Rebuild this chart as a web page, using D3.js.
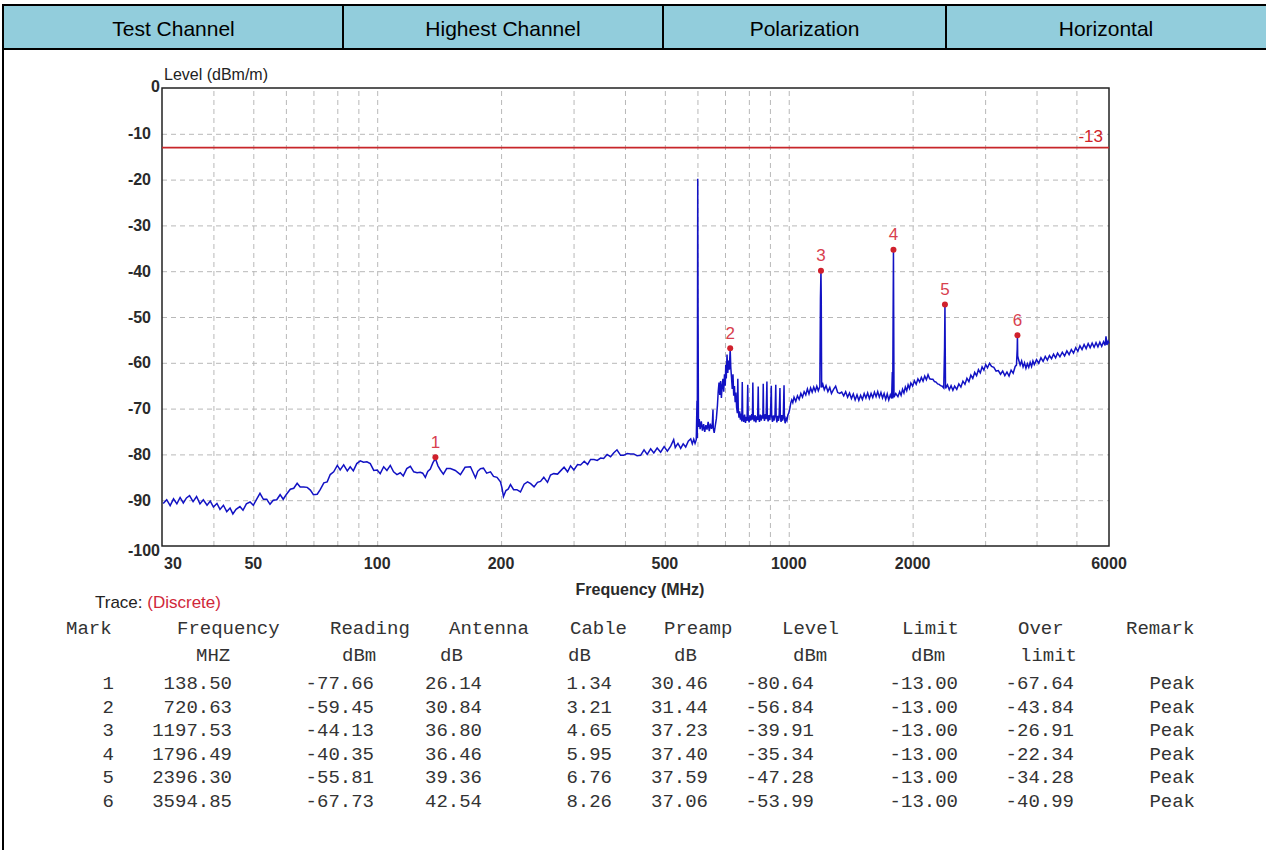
<!DOCTYPE html>
<html>
<head>
<meta charset="utf-8">
<script src="https://cdn.jsdelivr.net/npm/d3@7/dist/d3.min.js"></script>
<style>
	html, body { margin: 0; padding: 0; background: #fff; }
	svg { display: block; }
</style>
</head>
<body>
<svg id="chart"></svg>
<script>
const WIDTH = 1266;
const HEIGHT = 850;

// header row of the report table
const headerCells = ['Test Channel', 'Highest Channel', 'Polarization', 'Horizontal'];

// axis ticks
const yTicks = [0, -10, -20, -30, -40, -50, -60, -70, -80, -90, -100];
const xTickLabels = [30, 50, 100, 200, 500, 1000, 2000, 6000];
const xGridLines = [40, 50, 60, 70, 80, 90, 100, 200, 300, 400, 500, 600, 700, 800, 900, 1000, 2000, 3000, 4000, 5000];
const limitLevel = -13;

// measured trace: [frequency MHz, level dBm/m]
const trace = [
	[30.2, -90.7], [30.8, -89.9], [31.4, -91.2], [32.0, -89.7], [32.6, -90.8], [33.2, -89.4], [33.8, -90.6],
	[34.4, -89.5], [35.0, -89.0], [35.7, -90.3], [36.4, -89.2], [37.1, -90.8], [37.8, -89.9], [38.6, -91.1],
	[39.3, -90.2], [40.0, -91.5], [40.8, -90.7], [41.5, -92.0], [42.3, -91.1], [43.1, -92.5], [43.9, -91.7],
	[44.6, -93.0], [45.4, -92.0], [46.4, -91.4], [47.2, -92.2], [48.1, -90.8], [49.1, -90.4], [50.0, -91.1],
	[51.0, -89.7], [51.9, -88.5], [52.9, -89.8], [53.9, -89.8], [54.9, -90.9], [55.9, -90.0], [57.0, -89.9],
	[58.1, -88.8], [59.1, -89.8], [60.2, -88.7], [61.5, -87.6], [62.7, -87.4], [63.9, -86.3], [65.0, -87.1],
	[66.3, -87.1], [67.6, -87.2], [68.8, -87.8], [70.0, -88.8], [71.5, -88.7], [72.7, -87.7], [74.2, -86.2],
	[75.6, -86.0], [76.9, -84.4], [78.4, -83.8], [80.0, -82.4], [81.3, -83.4], [82.9, -82.3], [84.6, -83.6],
	[86.0, -82.7], [87.5, -83.6], [89.2, -82.0], [91.0, -81.4], [92.6, -81.7], [94.4, -81.6], [96.2, -82.0],
	[98.1, -83.5], [100.0, -83.4], [101.7, -84.2], [103.7, -82.7], [105.6, -83.5], [107.6, -82.4], [109.6, -83.8],
	[111.7, -84.4], [113.8, -84.0], [115.7, -84.7], [118.0, -83.1], [120.4, -82.6], [122.7, -83.8], [125.0, -84.0],
	[127.3, -83.9], [129.0, -84.1], [130.9, -85.0], [132.7, -83.7], [134.6, -83.2], [136.6, -81.8], [138.5, -80.9],
	[140.5, -82.5], [142.4, -83.4], [144.8, -84.3], [147.5, -83.1], [150.6, -83.1], [154.8, -83.5], [159.3, -84.4],
	[163.5, -82.8], [168.5, -82.7], [173.3, -85.1], [175.5, -83.7], [178.2, -83.1], [181.2, -83.0], [184.5, -84.1],
	[188.5, -83.8], [191.7, -84.8], [195.5, -85.0], [199.3, -86.0], [201.0, -87.3], [202.7, -89.2], [205.5, -87.9],
	[208.0, -87.6], [210.8, -86.6], [214.5, -87.7], [218.5, -87.7], [222.9, -88.2], [227.5, -86.5], [231.9, -86.0],
	[236.0, -86.4], [240.5, -87.1], [245.2, -86.1], [249.4, -85.9], [254.0, -85.0], [259.3, -86.1], [263.7, -84.5],
	[268.5, -84.2], [274.3, -84.3], [279.0, -83.6], [284.5, -82.8], [290.1, -83.8], [295.0, -82.5], [300.5, -83.4],
	[306.8, -82.2], [312.0, -82.3], [318.5, -81.5], [324.5, -82.2], [330.0, -81.1], [336.5, -81.1], [342.5, -81.3],
	[349.0, -80.8], [355.0, -80.9], [362.0, -80.0], [369.0, -80.5], [375.4, -79.7], [382.5, -79.0], [390.3, -80.2],
	[397.0, -80.2], [405.0, -79.8], [412.8, -79.9], [420.0, -79.9], [428.0, -80.3], [436.6, -80.2], [445.0, -79.0],
	[453.0, -80.0], [461.8, -78.8], [470.0, -79.7], [479.0, -78.6], [488.3, -79.5], [498.0, -78.3], [507.0, -79.3],
	[516.6, -78.2], [525.3, -76.8], [530.0, -78.5], [538.0, -77.6], [546.3, -78.7], [554.0, -77.7], [561.8, -78.4],
	[570.0, -77.1], [577.8, -76.6], [583.0, -77.7], [587.7, -76.7], [592.0, -77.6], [596.0, -76.8], [598.5, -68.3],
	[599.5, -76.5], [601.0, -19.8], [602.0, -48.0], [603.5, -74.0], [606.0, -72.3], [609.0, -74.5], [613.0, -72.8],
	[617.0, -74.8], [621.0, -73.4], [625.0, -75.1], [629.0, -73.6], [633.0, -74.6], [637.0, -72.9], [641.0, -74.9],
	[645.0, -73.3], [649.0, -74.4], [652.0, -73.5], [654.5, -70.2], [655.5, -74.2], [659.0, -75.3], [663.0, -73.7],
	[667.0, -72.2], [671.0, -69.3], [674.0, -66.2], [677.0, -64.3], [680.0, -67.0], [683.0, -64.0], [686.0, -67.7],
	[689.0, -65.0], [692.0, -63.5], [695.0, -66.3], [698.0, -62.5], [701.0, -65.0], [703.0, -60.5], [705.0, -63.4],
	[708.0, -58.2], [711.0, -62.2], [714.0, -59.5], [717.0, -61.5], [720.6, -57.0], [723.0, -61.0], [726.0, -63.2],
	[729.0, -65.7], [732.0, -62.5], [735.0, -67.2], [738.0, -65.1], [741.0, -68.6], [744.0, -66.5], [747.0, -69.8],
	[750.0, -71.0], [752.0, -63.5], [754.0, -70.2], [757.0, -72.0], [760.0, -70.6], [763.0, -72.4], [766.0, -71.1],
	[769.0, -72.8], [771.0, -64.2], [773.0, -71.5], [777.0, -72.9], [781.0, -71.3], [785.0, -73.1], [789.0, -71.8],
	[792.0, -72.7], [795.0, -64.8], [797.0, -71.9], [801.0, -73.0], [805.0, -71.5], [809.0, -72.6], [813.0, -71.2],
	[816.0, -72.4], [818.0, -64.3], [820.0, -71.6], [824.0, -72.8], [828.0, -71.4], [832.0, -73.0], [836.0, -71.7],
	[840.0, -72.5], [843.0, -65.2], [845.0, -71.8], [849.0, -72.9], [853.0, -71.3], [857.0, -72.6], [861.0, -71.5],
	[865.0, -72.2], [867.0, -64.6], [869.0, -71.4], [873.0, -72.7], [877.0, -71.2], [881.0, -72.3], [885.0, -64.1],
	[887.0, -71.6], [891.0, -72.8], [895.0, -71.4], [899.0, -72.5], [903.0, -71.0], [907.0, -65.0], [909.0, -71.7],
	[913.0, -72.9], [917.0, -71.5], [921.0, -72.6], [926.0, -71.3], [930.0, -64.8], [932.0, -71.9], [936.0, -73.0],
	[940.0, -71.6], [944.0, -72.7], [948.0, -71.2], [952.0, -65.5], [954.0, -71.8], [958.0, -72.9], [962.0, -71.4],
	[966.0, -72.6], [970.0, -71.7], [974.0, -64.9], [976.0, -72.0], [980.0, -73.2], [985.0, -72.1], [990.0, -72.6],
	[995.0, -71.4], [1000.0, -71.0], [1006.0, -70.0], [1011.0, -68.8], [1017.0, -68.1], [1023.0, -68.7], [1030.0, -67.5],
	[1040.0, -68.4], [1050.0, -67.2], [1060.0, -68.0], [1070.0, -66.7], [1080.0, -67.5], [1090.0, -66.3], [1100.0, -67.0],
	[1110.0, -65.7], [1120.0, -66.8], [1130.0, -65.5], [1140.0, -66.4], [1150.0, -65.3], [1160.0, -66.2], [1170.0, -65.1],
	[1180.0, -66.1], [1190.0, -65.2], [1194.0, -46.0], [1197.5, -39.9], [1199.5, -46.0], [1202.0, -65.4], [1210.0, -64.7],
	[1220.0, -65.9], [1232.0, -65.0], [1245.0, -66.3], [1258.0, -65.4], [1270.0, -66.7], [1285.0, -65.8], [1300.0, -65.1],
	[1315.0, -66.5], [1330.0, -66.7], [1345.0, -66.4], [1360.0, -67.2], [1375.0, -66.3], [1390.0, -67.5], [1405.0, -66.6],
	[1420.0, -67.8], [1435.0, -66.8], [1450.0, -68.1], [1465.0, -67.0], [1480.0, -68.2], [1495.0, -67.1], [1510.0, -68.0],
	[1525.0, -66.7], [1540.0, -67.7], [1555.0, -66.6], [1570.0, -67.8], [1585.0, -66.7], [1600.0, -67.6], [1615.0, -66.4],
	[1630.0, -67.4], [1645.0, -66.3], [1660.0, -67.5], [1675.0, -66.5], [1690.0, -67.7], [1705.0, -66.7], [1720.0, -68.0],
	[1735.0, -66.8], [1750.0, -68.1], [1765.0, -67.0], [1778.0, -67.8], [1785.0, -62.0], [1789.0, -67.8], [1793.0, -49.5],
	[1796.5, -35.3], [1799.0, -49.5], [1802.0, -67.5], [1820.0, -66.7], [1842.0, -67.4], [1860.0, -66.3], [1875.0, -67.1],
	[1890.0, -65.8], [1905.0, -66.6], [1920.0, -65.3], [1935.0, -66.1], [1950.0, -64.8], [1965.0, -65.6], [1980.0, -64.4],
	[2000.0, -65.1], [2020.0, -63.9], [2040.0, -64.7], [2060.0, -63.5], [2080.0, -64.2], [2100.0, -63.2], [2120.0, -64.0],
	[2140.0, -62.9], [2160.0, -63.7], [2180.0, -62.6], [2200.0, -63.5], [2220.0, -63.6], [2240.0, -63.6], [2260.0, -64.1],
	[2280.0, -64.2], [2300.0, -64.6], [2320.0, -64.7], [2340.0, -65.0], [2360.0, -65.1], [2380.0, -65.5], [2391.0, -56.7],
	[2396.3, -47.3], [2400.0, -56.7], [2404.0, -65.6], [2430.0, -64.8], [2455.0, -65.9], [2480.0, -65.0], [2505.0, -66.0],
	[2530.0, -65.1], [2560.0, -65.8], [2590.0, -64.6], [2620.0, -65.3], [2650.0, -64.0], [2680.0, -64.7], [2710.0, -63.4],
	[2740.0, -64.1], [2770.0, -62.7], [2800.0, -63.4], [2830.0, -62.1], [2860.0, -62.8], [2890.0, -61.5], [2920.0, -62.2],
	[2950.0, -60.9], [2980.0, -61.6], [3010.0, -60.4], [3040.0, -61.1], [3075.0, -60.1], [3110.0, -60.8], [3150.0, -61.0],
	[3190.0, -61.8], [3230.0, -61.7], [3270.0, -62.5], [3310.0, -61.8], [3350.0, -62.8], [3390.0, -62.0], [3430.0, -62.9],
	[3470.0, -61.6], [3510.0, -62.3], [3550.0, -60.8], [3575.0, -60.5], [3590.0, -57.0], [3594.9, -54.0], [3600.0, -58.5],
	[3620.0, -59.4], [3650.0, -60.5], [3680.0, -59.6], [3710.0, -60.9], [3740.0, -60.0], [3770.0, -61.2], [3800.0, -60.2],
	[3830.0, -61.0], [3860.0, -59.9], [3890.0, -60.8], [3920.0, -59.6], [3950.0, -60.4], [4000.0, -59.3], [4050.0, -60.1],
	[4100.0, -58.9], [4150.0, -59.7], [4200.0, -58.6], [4250.0, -59.4], [4300.0, -58.4], [4350.0, -59.1], [4400.0, -58.1],
	[4450.0, -58.9], [4500.0, -57.9], [4560.0, -58.7], [4620.0, -57.7], [4680.0, -58.5], [4740.0, -57.4], [4800.0, -58.2],
	[4860.0, -57.1], [4920.0, -57.9], [4980.0, -56.7], [5040.0, -57.5], [5100.0, -56.3], [5160.0, -57.1], [5220.0, -56.0],
	[5280.0, -56.9], [5340.0, -55.8], [5400.0, -56.7], [5460.0, -55.7], [5520.0, -56.6], [5580.0, -55.6], [5640.0, -56.5],
	[5700.0, -55.5], [5760.0, -56.4], [5820.0, -55.4], [5870.0, -56.2], [5900.0, -54.2], [5930.0, -56.1], [5970.0, -55.3],
	[6000.0, -55.8]
];

// marker table
const markNo = [1, 2, 3, 4, 5, 6];
const markFreq = [138.50, 720.63, 1197.53, 1796.49, 2396.30, 3594.85];
const markReading = [-77.66, -59.45, -44.13, -40.35, -55.81, -67.73];
const markAntenna = [26.14, 30.84, 36.80, 36.46, 39.36, 42.54];
const markCable = [1.34, 3.21, 4.65, 5.95, 6.76, 8.26];
const markPreamp = [30.46, 31.44, 37.23, 37.40, 37.59, 37.06];
const markLevel = [-80.64, -56.84, -39.91, -35.34, -47.28, -53.99];
const markLimit = [-13.00, -13.00, -13.00, -13.00, -13.00, -13.00];
const markOver = [-67.64, -43.84, -26.91, -22.34, -34.28, -40.99];
const markRemark = ['Peak', 'Peak', 'Peak', 'Peak', 'Peak', 'Peak'];

const tableHeads = ['Mark', 'Frequency', 'Reading', 'Antenna', 'Cable', 'Preamp', 'Level', 'Limit', 'Over', 'Remark'];
const tableUnits = ['', 'MHZ', 'dBm', 'dB', 'dB', 'dB', 'dBm', 'dBm', 'limit', ''];

const SANS = '"Liberation Sans", Arial, sans-serif';
const MONO = '"Liberation Mono", "Courier New", monospace';

const svg = d3.select('#chart').attr('width', WIDTH).attr('height', HEIGHT);
svg.append('rect').attr('width', WIDTH).attr('height', HEIGHT).attr('fill', '#fff');

// HEADER
const colEdges = [4, 343, 663, 946, 1266];
const header = svg.append('g');
header.append('rect')
	.attr('x', 4).attr('y', 6)
	.attr('width', WIDTH - 4).attr('height', 43)
	.attr('fill', '#92cddc');
header.selectAll('text')
	.data(headerCells)
	.enter()
	.append('text')
	.attr('x', (d, i) => (colEdges[i] + colEdges[i + 1]) / 2)
	.attr('y', 28)
	.attr('text-anchor', 'middle')
	.attr('dominant-baseline', 'central')
	.attr('font-family', SANS)
	.attr('font-size', '21px')
	.attr('fill', '#000')
	.text((d) => d);
header.append('line').attr('x1', 2).attr('x2', WIDTH).attr('y1', 5).attr('y2', 5).attr('stroke', '#000').attr('stroke-width', 2);
header.append('line').attr('x1', 2).attr('x2', WIDTH).attr('y1', 49).attr('y2', 49).attr('stroke', '#000').attr('stroke-width', 2);
header.selectAll('line.div')
	.data(colEdges.slice(1, 4))
	.enter()
	.append('line')
	.attr('class', 'div')
	.attr('x1', (d) => d).attr('x2', (d) => d)
	.attr('y1', 5).attr('y2', 49)
	.attr('stroke', '#000').attr('stroke-width', 2);
svg.append('line').attr('x1', 3).attr('x2', 3).attr('y1', 4).attr('y2', HEIGHT).attr('stroke', '#000').attr('stroke-width', 2);

// CHART
const plot = { left: 162, right: 1109, top: 88, bottom: 546 };
const x = d3.scaleLog().domain([30, 6000]).range([plot.left, plot.right]);
const y = d3.scaleLinear().domain([-100, 0]).range([plot.bottom, plot.top]);

const chart = svg.append('g');

// grid
chart.append('g')
	.attr('transform', `translate(0,${plot.bottom})`)
	.call(d3.axisBottom(x).tickValues(xGridLines).tickSize(-(plot.bottom - plot.top)).tickFormat(''))
	.call((g) => g.select('.domain').remove())
	.call((g) => g.selectAll('line').attr('stroke', '#b8b8b8').attr('stroke-dasharray', '5,4'));
chart.append('g')
	.attr('transform', `translate(${plot.left},0)`)
	.call(d3.axisLeft(y).tickValues(yTicks.slice(1, -1)).tickSize(-(plot.right - plot.left)).tickFormat(''))
	.call((g) => g.select('.domain').remove())
	.call((g) => g.selectAll('line').attr('stroke', '#b8b8b8').attr('stroke-dasharray', '5,4'));

chart.append('rect')
	.attr('x', plot.left).attr('y', plot.top)
	.attr('width', plot.right - plot.left).attr('height', plot.bottom - plot.top)
	.attr('fill', 'none').attr('stroke', '#222').attr('stroke-width', 1.5);

// y labels
chart.selectAll('text.ylab')
	.data(yTicks)
	.enter()
	.append('text')
	.attr('class', 'ylab')
	.attr('x', (d) => (d === 0 || d === -100 ? 160 : 151))
	.attr('y', (d) => y(d) + (d === 0 ? -2 : d === -100 ? 4 : 0))
	.attr('text-anchor', 'end')
	.attr('dominant-baseline', 'central')
	.attr('font-family', SANS)
	.attr('font-size', '16px')
	.attr('font-weight', 'bold')
	.attr('fill', '#2a2a2a')
	.text((d) => d);

// x labels
chart.selectAll('text.xlab')
	.data(xTickLabels)
	.enter()
	.append('text')
	.attr('class', 'xlab')
	.attr('x', (d, i) => (i === 0 ? x(d) + 2 : x(d)))
	.attr('y', 563)
	.attr('text-anchor', (d, i) => (i === 0 ? 'start' : 'middle'))
	.attr('dominant-baseline', 'central')
	.attr('font-family', SANS)
	.attr('font-size', '16px')
	.attr('font-weight', 'bold')
	.attr('fill', '#2a2a2a')
	.text((d) => d);

chart.append('text')
	.attr('x', plot.left + 2).attr('y', 74)
	.attr('dominant-baseline', 'central')
	.attr('font-family', SANS).attr('font-size', '16px').attr('fill', '#222')
	.text('Level (dBm/m)');
chart.append('text')
	.attr('x', 640).attr('y', 589)
	.attr('text-anchor', 'middle')
	.attr('dominant-baseline', 'central')
	.attr('font-family', SANS).attr('font-size', '16px').attr('font-weight', 'bold').attr('fill', '#2a2a2a')
	.text('Frequency (MHz)');

// limit line
chart.append('line')
	.attr('x1', plot.left).attr('x2', plot.right)
	.attr('y1', y(limitLevel)).attr('y2', y(limitLevel))
	.attr('stroke', '#c8262a').attr('stroke-width', 1.8);
chart.append('text')
	.attr('x', plot.right - 6).attr('y', y(limitLevel) - 11)
	.attr('text-anchor', 'end')
	.attr('dominant-baseline', 'central')
	.attr('font-family', SANS).attr('font-size', '17px').attr('fill', '#d0232a')
	.text(limitLevel);

// trace
const line = d3.line()
	.x((d) => x(d[0]))
	.y((d) => y(d[1]));
chart.append('path')
	.datum(trace)
	.attr('d', line)
	.attr('fill', 'none')
	.attr('stroke', '#1212c4')
	.attr('stroke-width', 1.5);

// markers
const marks = chart.selectAll('g.mark')
	.data(markNo)
	.enter()
	.append('g')
	.attr('class', 'mark');
marks.append('circle')
	.attr('cx', (d, i) => x(markFreq[i]))
	.attr('cy', (d, i) => y(markLevel[i]))
	.attr('r', 3)
	.attr('fill', '#d0202c');
marks.append('text')
	.attr('x', (d, i) => x(markFreq[i]))
	.attr('y', (d, i) => y(markLevel[i]) - 15)
	.attr('text-anchor', 'middle')
	.attr('dominant-baseline', 'central')
	.attr('font-family', SANS).attr('font-size', '17px').attr('fill', '#d8404e')
	.text((d) => d);

// TABLE
const table = svg.append('g');
const traceLabel = table.append('text')
	.attr('x', 95).attr('y', 602)
	.attr('dominant-baseline', 'central')
	.attr('font-family', SANS).attr('font-size', '17px');
traceLabel.append('tspan').attr('fill', '#222').text('Trace: ');
traceLabel.append('tspan').attr('fill', '#d0283a').text('(Discrete)');

const headX = [66, 177, 330, 449, 570, 664, 782, 902, 1018, 1126];
const unitX = [0, 196, 342, 440, 568, 674, 793, 911, 1020, 0];
const cellRight = [114, 232, 374, 482, 612, 708, 814, 958, 1074, 1195];
const rowY = [684, 707.5, 731, 754.5, 778, 801.5];

table.selectAll('text.head')
	.data(tableHeads)
	.enter()
	.append('text')
	.attr('class', 'head')
	.attr('x', (d, i) => headX[i]).attr('y', 629)
	.attr('dominant-baseline', 'central')
	.attr('font-family', MONO).attr('font-size', '19px').attr('fill', '#333')
	.text((d) => d);
table.selectAll('text.unit')
	.data(tableUnits)
	.enter()
	.append('text')
	.attr('class', 'unit')
	.attr('x', (d, i) => unitX[i]).attr('y', 656)
	.attr('dominant-baseline', 'central')
	.attr('font-family', MONO).attr('font-size', '19px').attr('fill', '#333')
	.text((d) => d);

const fmt = d3.format('.2f');
const rows = markNo.map((n, i) => [
	String(n),
	fmt(markFreq[i]),
	fmt(markReading[i]),
	fmt(markAntenna[i]),
	fmt(markCable[i]),
	fmt(markPreamp[i]),
	fmt(markLevel[i]),
	fmt(markLimit[i]),
	fmt(markOver[i]),
	markRemark[i]
].map((s) => s.replace('\u2212', '-')));
const rowG = table.selectAll('g.row')
	.data(rows)
	.enter()
	.append('g')
	.attr('class', 'row');
rowG.selectAll('text')
	.data((d, i) => d.map((v) => ({ v, row: i })))
	.enter()
	.append('text')
	.attr('x', (d, j) => cellRight[j])
	.attr('y', (d) => rowY[d.row])
	.attr('text-anchor', 'end')
	.attr('dominant-baseline', 'central')
	.attr('font-family', MONO).attr('font-size', '19px').attr('fill', '#333')
	.text((d) => d.v);
</script>
</body>
</html>
